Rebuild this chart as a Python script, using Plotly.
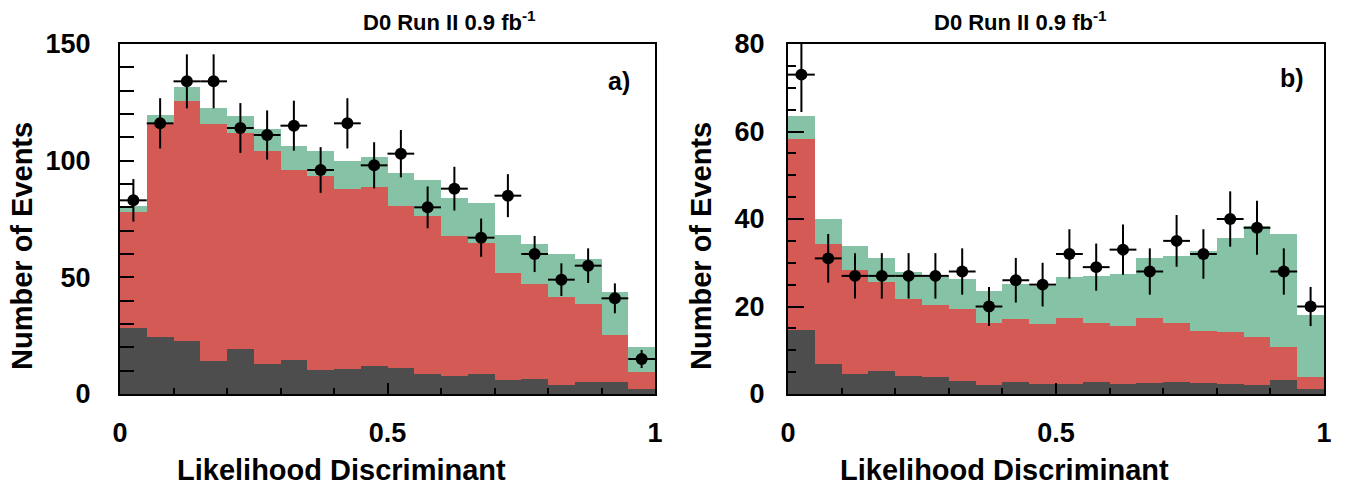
import numpy as np
import plotly.graph_objects as go

# ---------------- data ----------------
bin_centers = [round(0.025 + 0.05 * i, 3) for i in range(20)]
bin_half = [0.025] * 20

# panel a) backgrounds (per component, stacked bottom -> top)
a_dark = [28.4, 24.6, 22.7, 14.1, 19.1, 12.9, 14.4, 10.3, 10.6, 11.9,
          11.3, 8.7, 7.7, 8.7, 6.0, 6.4, 4.0, 5.1, 5.3, 2.3]
a_red = [49.7, 91.0, 103.0, 101.6, 92.6, 91.4, 81.6, 83.1, 77.4, 76.7,
         69.4, 67.7, 60.0, 56.2, 45.7, 40.6, 37.7, 33.5, 20.0, 7.3]
a_green = [2.6, 3.8, 5.9, 6.9, 7.4, 9.1, 10.1, 10.7, 12.0, 13.1,
           13.9, 15.3, 16.4, 16.8, 16.4, 17.3, 18.2, 19.3, 18.3, 10.4]
a_data = [83, 116, 134, 134, 114, 111, 115, 96, 116, 98,
          103, 80, 88, 67, 85, 60, 49, 55, 41, 15]

# panel b)
b_dark = [14.6, 6.9, 4.5, 5.3, 4.1, 4.0, 3.0, 2.1, 2.8, 2.4,
          2.4, 2.8, 2.3, 2.5, 2.8, 2.5, 2.3, 2.1, 3.2, 1.1]
b_red = [43.8, 27.5, 23.9, 20.3, 17.7, 16.3, 16.5, 14.1, 14.3, 13.5,
         14.9, 13.5, 13.3, 14.9, 13.4, 12.0, 11.9, 11.0, 7.5, 2.8]
b_green = [5.1, 5.5, 5.5, 5.6, 6.2, 6.4, 6.9, 7.3, 8.1, 8.9,
           9.4, 10.7, 11.8, 13.6, 15.4, 18.3, 21.5, 25.3, 25.9, 14.1]
b_data = [73, 31, 27, 27, 27, 27, 28, 20, 26, 25,
          32, 29, 33, 28, 35, 32, 40, 38, 28, 20]

title_text = "D0 Run II 0.9 fb<sup>-1</sup>"
x_title = "Likelihood Discriminant"
y_title = "Number of Events"
panel_labels = ["a)", "b)"]

# ---------------- style ----------------
C_DARK = "#4d4d4d"
C_RED = "#d35a55"
C_GREEN = "#86c3a6"
FONT = "Liberation Sans, Arial, sans-serif"

fig = go.Figure()

panels = [
    ("x", "y", a_dark, a_red, a_green, a_data),
    ("x2", "y2", b_dark, b_red, b_green, b_data),
]
for xa, ya, dark, red, green, data in panels:
    for vals, col in ((dark, C_DARK), (red, C_RED), (green, C_GREEN)):
        fig.add_trace(go.Bar(
            x=bin_centers, y=vals, width=0.05, xaxis=xa, yaxis=ya,
            marker=dict(color=col, line=dict(width=0)),
            showlegend=False, hoverinfo="skip"))
    fig.add_trace(go.Scatter(
        x=bin_centers, y=data, xaxis=xa, yaxis=ya, mode="markers",
        marker=dict(color="black", size=12, line=dict(width=0)),
        error_y=dict(type="data", array=np.sqrt(data), color="black",
                     thickness=2, width=0),
        error_x=dict(type="data", array=bin_half, color="black",
                     thickness=2, width=0),
        showlegend=False))

W, H = 1345, 487
ax_common = dict(
    showgrid=False, zeroline=False, showline=True, linecolor="black",
    linewidth=2, mirror=True, ticks="inside", tickcolor="black",
    tickwidth=2, automargin=False,
    tickfont=dict(family=FONT, size=27, color="black", weight="bold"),
)
xdomA = [120 / W, 655 / W]
xdomB = [788 / W, 1324 / W]
ydom = [(H - 394) / H, (H - 44) / H]

fig.update_layout(
    width=W, height=H, barmode="stack", bargap=0,
    paper_bgcolor="white", plot_bgcolor="white",
    margin=dict(l=0, r=0, t=0, b=0, autoexpand=False),
    xaxis=dict(ax_common, domain=xdomA, anchor="y", range=[0, 1],
               tickvals=[0, 0.5, 1], ticktext=["0", "0.5", "1"],
               ticklen=11, ticklabelstandoff=14,
               minor=dict(dtick=0.1, ticklen=6, tickwidth=2,
                          tickcolor="black", ticks="inside")),
    yaxis=dict(ax_common, domain=ydom, anchor="x", range=[0, 150],
               tickvals=[0, 50, 100, 150], ticklen=14,
               ticklabelstandoff=22,
               minor=dict(dtick=10, ticklen=14, tickwidth=2,
                          tickcolor="black", ticks="inside")),
    xaxis2=dict(ax_common, domain=xdomB, anchor="y2", range=[0, 1],
                tickvals=[0, 0.5, 1], ticktext=["0", "0.5", "1"],
                ticklen=11, ticklabelstandoff=14,
                minor=dict(dtick=0.1, ticklen=6, tickwidth=2,
                           tickcolor="black", ticks="inside")),
    yaxis2=dict(ax_common, domain=ydom, anchor="x2", range=[0, 80],
                tickvals=[0, 20, 40, 60, 80], ticklen=16,
                ticklabelstandoff=16,
                minor=dict(dtick=5, ticklen=8, tickwidth=2,
                           tickcolor="black", ticks="inside")),
)

ann = []
bold = dict(family=FONT, color="black", weight="bold")
# y titles
for xc in (22, 701):
    ann.append(dict(text=y_title, x=xc / W, y=1 - 246 / H, xref="paper",
                    yref="paper", textangle=-90, showarrow=False,
                    xanchor="center", yanchor="middle",
                    font=dict(bold, size=29)))
# x titles
for xc in (342, 1004):
    ann.append(dict(text=x_title, x=xc / W, y=1 - 470 / H, xref="paper",
                    yref="paper", showarrow=False, xanchor="center",
                    yanchor="middle", font=dict(bold, size=29)))
# panel titles
for xc in (449, 1020):
    ann.append(dict(text=title_text, x=xc / W, y=1 - 21 / H, xref="paper",
                    yref="paper", showarrow=False, xanchor="center",
                    yanchor="middle", font=dict(bold, size=22)))
# panel labels
for lab, xc, yc in zip(panel_labels, (619, 1292), (81, 78)):
    ann.append(dict(text=lab, x=xc / W, y=1 - yc / H, xref="paper",
                    yref="paper", showarrow=False, xanchor="center",
                    yanchor="middle", font=dict(bold, size=25)))
fig.update_layout(annotations=ann)

fig.write_html("out.html", config={"displayModeBar": False},
               post_script="document.body.style.margin='0';"
                           "document.body.style.overflow='hidden';")
